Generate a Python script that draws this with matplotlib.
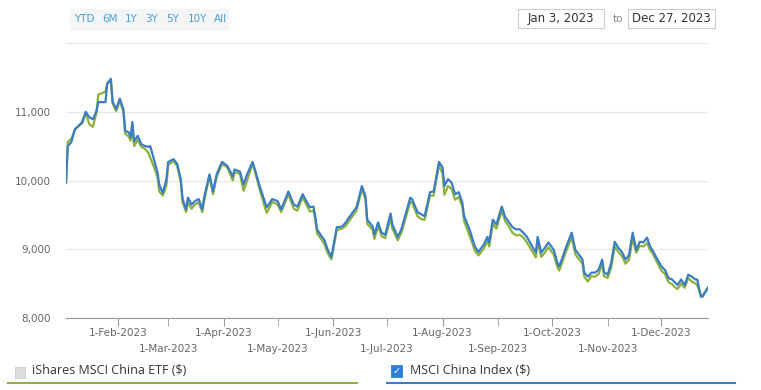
import numpy as np
import pandas as pd
import matplotlib
matplotlib.use("Agg")
import matplotlib.pyplot as plt
from matplotlib.patches import Rectangle
from matplotlib.lines import Line2D

# days counted from the first date
start = "2023-01-03"
days = [0, 1, 3, 5, 7, 9, 11, 13, 15, 17, 18, 22, 23, 25, 26, 28, 30, 32, 33, 35,
        36, 37, 38, 40, 42, 44, 46, 47, 49, 51, 52, 54, 56, 57, 60, 62, 64, 65, 67, 68,
        70, 72, 74, 76, 77, 80, 82, 84, 87, 90, 93, 94, 97, 99, 101, 104, 105, 108, 111, 112,
        115, 118, 120, 124, 127, 129, 132, 134, 136, 138, 139, 140, 143, 144, 146, 148, 151, 154, 156, 157,
        160, 162, 165, 167, 168, 171, 172, 174, 176, 178, 181, 182, 185, 187, 192, 193, 196, 198, 200, 203,
        205, 208, 210, 211, 213, 215, 217, 219, 221, 222, 225, 228, 230, 233, 235, 236, 238, 240, 243, 245,
        246, 249, 251, 253, 255, 257, 260, 262, 263, 265, 267, 269, 272, 274, 275, 277, 279, 282, 284, 285,
        288, 289, 291, 293, 295, 297, 299, 300, 302, 304, 306, 308, 310, 312, 313, 314, 316, 318, 320, 322,
        324, 326, 327, 329, 332, 334, 336, 338, 339, 341, 343, 345, 347, 349, 351, 352, 354, 355, 358]

index_vals = [9970, 10500, 10560, 10750, 10790, 10850, 11000, 10920, 10890, 11010, 11140, 11140, 11410, 11480, 11140, 11040, 11190, 11040, 10720, 10700,
              10630, 10850, 10570, 10650, 10530, 10500, 10490, 10500, 10310, 10120, 9940, 9820, 10020, 10270, 10310, 10240, 10020, 9730, 9580, 9750,
              9650, 9700, 9730, 9580, 9750, 10090, 9840, 10090, 10270, 10210, 10060, 10160, 10130, 9940, 10090, 10270, 10190, 9920, 9680, 9610,
              9730, 9700, 9580, 9840, 9650, 9620, 9800, 9700, 9610, 9620, 9480, 9290, 9170, 9140, 8990, 8890, 9320, 9330, 9390, 9430,
              9540, 9610, 9920, 9770, 9430, 9330, 9210, 9390, 9240, 9210, 9520, 9360, 9180, 9290, 9750, 9730, 9540, 9510, 9480, 9830,
              9840, 10270, 10190, 9920, 10020, 9970, 9800, 9830, 9680, 9480, 9290, 9040, 8960, 9070, 9180, 9100, 9430, 9360, 9620, 9460,
              9430, 9320, 9290, 9290, 9240, 9180, 9040, 8950, 9180, 8950, 9020, 9100, 8990, 8800, 8750, 8890, 9040, 9240, 8990, 8960,
              8850, 8660, 8600, 8660, 8660, 8700, 8850, 8670, 8630, 8800, 9110, 9020, 8960, 8850, 8880, 8920, 9240, 8990, 9110, 9100,
              9170, 9020, 8990, 8890, 8750, 8700, 8580, 8560, 8530, 8480, 8560, 8480, 8630, 8600, 8560, 8560, 8310, 8310, 8440]

etf_vals = [9970, 10560, 10610, 10740, 10800, 10830, 10980, 10820, 10780, 10990, 11250, 11290, 11410, 11450, 11120, 11010, 11160, 11000, 10680, 10640,
            10580, 10760, 10500, 10590, 10490, 10460, 10400, 10330, 10200, 10050, 9840, 9780, 9930, 10230, 10280, 10210, 9980, 9680, 9540, 9680,
            9590, 9650, 9680, 9540, 9700, 10060, 9800, 10050, 10240, 10190, 10000, 10120, 10100, 9850, 10000, 10240, 10160, 9870, 9600, 9530,
            9690, 9650, 9540, 9800, 9590, 9560, 9760, 9650, 9550, 9560, 9430, 9230, 9120, 9080, 8940, 8850, 9280, 9300, 9340, 9380,
            9490, 9560, 9880, 9720, 9370, 9280, 9150, 9340, 9190, 9160, 9450, 9300, 9130, 9240, 9690, 9680, 9480, 9440, 9430, 9780,
            9780, 10220, 10100, 9790, 9920, 9880, 9720, 9760, 9620, 9410, 9200, 8980, 8910, 9010, 9120, 9040, 9370, 9300, 9560, 9400,
            9370, 9240, 9200, 9210, 9170, 9100, 8970, 8880, 9110, 8890, 8950, 9030, 8920, 8740, 8690, 8830, 8980, 9170, 8930, 8890,
            8790, 8600, 8530, 8610, 8600, 8640, 8790, 8610, 8580, 8730, 9040, 8960, 8900, 8790, 8820, 8850, 9160, 8950, 9050, 9040,
            9090, 8970, 8950, 8840, 8690, 8640, 8520, 8490, 8460, 8420, 8500, 8440, 8580, 8530, 8500, 8480, 8330, 8330, 8440]

yticks = [8000, 9000, 10000, 11000]
range_buttons = ["YTD", "6M", "1Y", "3Y", "5Y", "10Y", "All"]
series_names = ["iShares MSCI China ETF ($)", "MSCI China Index ($)"]

W, H = 761, 390
green = "#8cb23c"
blue = "#3b7dc4"

dates = pd.to_datetime(start) + pd.to_timedelta(days, unit="D")

fig = plt.figure(figsize=(W / 100, H / 100), dpi=100)
ax = fig.add_axes([66 / W, 1 - 318 / H, (708 - 66) / W, (318 - 43) / H])

ax.plot(dates, etf_vals, color=green, lw=1.6, zorder=3)
ax.plot(dates, index_vals, color=blue, lw=1.6, zorder=4)

ax.set_xlim(pd.Timestamp("2023-01-03"), pd.Timestamp("2023-12-27"))
ax.set_ylim(8000, 12000)
ax.set_yticks(yticks + [12000])
ax.set_yticklabels([f"{v:,}" for v in yticks] + [""])
ax.grid(axis="y", color="#e8e8e8", lw=0.9)
ax.set_axisbelow(True)

# month labels alternate between two rows
months = pd.date_range("2023-02-01", "2023-12-01", freq="MS")
upper = months[0::2]
lower = months[1::2]
ax.set_xticks(upper)
ax.set_xticklabels([m.strftime("1-%b-%Y") for m in upper])
ax.set_xticks(lower, minor=True)
ax.set_xticklabels([m.strftime("1-%b-%Y") for m in lower], minor=True)

for s in ["left", "right", "top"]:
    ax.spines[s].set_visible(False)
ax.spines["bottom"].set_color("#999999")
ax.tick_params(axis="x", which="major", length=6, color="#999999", labelsize=7.5,
               labelcolor="#666666", pad=1)
ax.tick_params(axis="x", which="minor", length=6, color="#999999", labelsize=7.5,
               labelcolor="#666666", pad=12.5)
ax.tick_params(axis="y", length=0, labelsize=7.5, labelcolor="#666666", pad=11)

# range buttons
fig.patches.append(Rectangle((70 / W, 1 - 31 / H), (229 - 70) / W, 22 / H,
                             transform=fig.transFigure, facecolor="#f4f5f6", edgecolor="none"))
bx = [74, 102, 125, 145, 166, 188, 214]
for t, x in zip(range_buttons, bx):
    fig.text(x / W, 1 - 19 / H, t, color="#4aa0d8", fontsize=7.5, va="center", ha="left")

# date inputs
for x0, x1, t in [(518, 604, "Jan 3, 2023"), (628, 715, "Dec 27, 2023")]:
    fig.patches.append(Rectangle((x0 / W, 1 - 28 / H), (x1 - x0) / W, 19 / H,
                                 transform=fig.transFigure, facecolor="white", edgecolor="#cccccc", lw=0.8))
    fig.text((x0 + x1) / 2 / W, 1 - 18.5 / H, t, color="#333333", fontsize=8.5, ha="center", va="center")
fig.text(618 / W, 1 - 18.5 / H, "to", color="#888888", fontsize=7.5, ha="center", va="center")

# legend
fig.patches.append(Rectangle((15 / W, 1 - 378 / H), 10 / W, 11 / H, transform=fig.transFigure,
                             facecolor="#dddddd", edgecolor="#cccccc", lw=0.6))
fig.text(32 / W, 1 - 371 / H, series_names[0], color="#333333", fontsize=9,
         family="Open Sans", va="center", ha="left")
fig.add_artist(Line2D([8 / W, 357 / W], [1 - 383 / H, 1 - 383 / H], color=green, lw=1.5))

fig.patches.append(Rectangle((391 / W, 1 - 377 / H), 11 / W, 12 / H, transform=fig.transFigure,
                             facecolor="#2f7fd6", edgecolor="#2f7fd6", lw=0.6))
fig.text(396.5 / W, 1 - 371 / H, "\u2713", color="white", fontsize=7, ha="center", va="center",
         fontweight="bold")
fig.text(410 / W, 1 - 371 / H, series_names[1], color="#333333", fontsize=9,
         family="Open Sans", va="center", ha="left")
fig.add_artist(Line2D([387 / W, 735 / W], [1 - 383 / H, 1 - 383 / H], color=blue, lw=1.5))

fig.savefig("out.png", dpi=100)
